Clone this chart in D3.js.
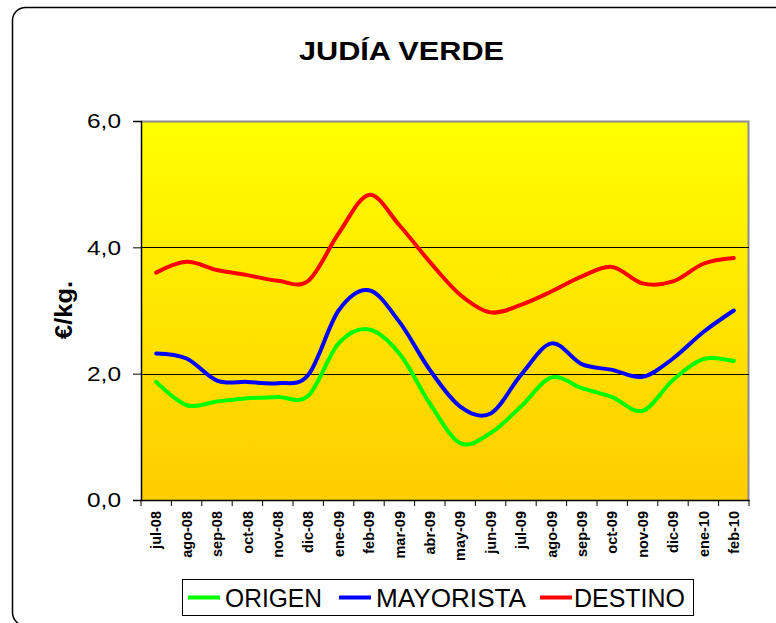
<!DOCTYPE html>
<html>
<head>
<meta charset="utf-8">
<script src="https://cdn.jsdelivr.net/npm/d3@7"></script>
<style>
  html, body { margin: 0; padding: 0; background: #fff; }
  svg { display: block; font-family: "Liberation Sans", Arial, sans-serif; }
</style>
</head>
<body>
<svg id="chart" width="776" height="623"></svg>
<script>
// Monthly prices (€/kg) for green beans at three stages of the chain
const months = ["jul-08","ago-08","sep-08","oct-08","nov-08","dic-08","ene-09","feb-09","mar-09","abr-09",
                "may-09","jun-09","jul-09","ago-09","sep-09","oct-09","nov-09","dic-09","ene-10","feb-10"];
const origen    = [1.87, 1.50, 1.56, 1.61, 1.63, 1.65, 2.48, 2.70, 2.32, 1.53, 0.90, 1.06, 1.48, 1.94, 1.77, 1.63, 1.41, 1.90, 2.23, 2.20];
const mayorista = [2.32, 2.24, 1.89, 1.87, 1.85, 1.98, 3.00, 3.32, 2.82, 2.06, 1.48, 1.37, 1.98, 2.48, 2.15, 2.06, 1.95, 2.24, 2.66, 3.00];
const destino   = [3.60, 3.77, 3.64, 3.56, 3.47, 3.47, 4.22, 4.83, 4.35, 3.77, 3.25, 2.97, 3.09, 3.30, 3.54, 3.69, 3.43, 3.46, 3.74, 3.83];
const yTicks = [0, 2, 4, 6];
const seriesNames = ["ORIGEN", "MAYORISTA", "DESTINO"];
const seriesColors = ["#00ff00", "#0000ff", "#ff0000"];
const seriesData = [origen, mayorista, destino];

const svg = d3.select("#chart");
const plot = { left: 141, right: 749, top: 121, bottom: 500 };

// Outer rounded frame
svg.append("rect")
  .attr("x", 12.5).attr("y", 7.5)
  .attr("width", 790).attr("height", 618)
  .attr("rx", 13).attr("ry", 13)
  .attr("fill", "#fff").attr("stroke", "#000").attr("stroke-width", 1.5);

// Title
svg.append("text")
  .attr("x", 401.5).attr("y", 59.5)
  .attr("text-anchor", "middle")
  .attr("font-size", 25).attr("font-weight", "bold")
  .attr("textLength", 205).attr("lengthAdjust", "spacingAndGlyphs")
  .text("JUDÍA VERDE");

const x = d3.scaleBand().domain(months).range([plot.left, plot.right]);
const y = d3.scaleLinear().domain([0, 6]).range([plot.bottom, plot.top]);

// Plot background gradient
const defs = svg.append("defs");
const grad = defs.append("linearGradient").attr("id", "bg")
  .attr("x1", 0).attr("y1", 0).attr("x2", 0).attr("y2", 1);
grad.append("stop").attr("offset", "0%").attr("stop-color", "#ffff00");
grad.append("stop").attr("offset", "100%").attr("stop-color", "#ffcc00");

svg.append("rect")
  .attr("x", plot.left).attr("y", plot.top)
  .attr("width", plot.right - plot.left).attr("height", plot.bottom - plot.top)
  .attr("fill", "url(#bg)");

// Plot border (top and right in grey)
svg.append("path")
  .attr("d", `M${plot.left},${plot.top + 0.5}H${plot.right - 0.5}V${plot.bottom}`)
  .attr("fill", "none").attr("stroke", "#8c8c8c").attr("stroke-width", 2);

// Horizontal gridlines
svg.append("g").selectAll("line")
  .data(yTicks.filter(d => d > 0 && d < 6))
  .join("line")
  .attr("x1", plot.left).attr("x2", plot.right)
  .attr("y1", d => Math.round(y(d)) + 0.5).attr("y2", d => Math.round(y(d)) + 0.5)
  .attr("stroke", "#000").attr("stroke-width", 1);

// Y axis
const yAxis = svg.append("g")
  .attr("transform", `translate(${plot.left},0)`)
  .call(d3.axisLeft(y).tickValues(yTicks).tickSize(8).tickPadding(12)
    .tickFormat(d => d.toFixed(1).replace(".", ",")));
yAxis.select(".domain").attr("stroke", "#000").attr("stroke-width", 1.5);
yAxis.selectAll(".tick line").attr("stroke", "#000");
yAxis.selectAll("text")
  .attr("font-size", 21).attr("font-family", "Liberation Sans, Arial, sans-serif")
  .attr("fill", "#000")
  .attr("textLength", 34).attr("lengthAdjust", "spacingAndGlyphs");

// Y axis title
svg.append("text")
  .attr("transform", "translate(72,310) rotate(-90)")
  .attr("text-anchor", "middle")
  .attr("font-size", 23).attr("font-weight", "bold")
  .attr("textLength", 58).attr("lengthAdjust", "spacingAndGlyphs")
  .text("€/kg.");

// X axis: line, boundary ticks, rotated labels
const xAxis = svg.append("g")
  .attr("transform", `translate(0,${plot.bottom})`)
  .call(d3.axisBottom(x).tickSize(0).tickPadding(0));
xAxis.select(".domain").attr("stroke", "#000").attr("stroke-width", 1.5);
xAxis.selectAll(".tick text")
  .attr("transform", "rotate(-90)")
  .attr("text-anchor", "end")
  .attr("x", -11).attr("y", 0).attr("dy", "0.36em")
  .attr("font-size", 14.5).attr("font-weight", "bold")
  .attr("font-family", "Liberation Sans, Arial, sans-serif")
  .attr("fill", "#000");

const bounds = months.map(m => x(m)).concat([x(months[months.length - 1]) + x.bandwidth()]);
svg.append("g").selectAll("line")
  .data(bounds)
  .join("line")
  .attr("x1", d => d).attr("x2", d => d)
  .attr("y1", plot.bottom).attr("y2", plot.bottom + 6)
  .attr("stroke", "#000").attr("stroke-width", 1);

// Series lines (smoothed)
const line = d3.line()
  .x((d, i) => x(months[i]) + x.bandwidth() / 2)
  .y(d => y(d))
  .curve(d3.curveCardinal.tension(0));

svg.append("g").selectAll("path")
  .data(seriesData)
  .join("path")
  .attr("d", d => line(d))
  .attr("fill", "none")
  .attr("stroke", (d, i) => seriesColors[i])
  .attr("stroke-width", 4)
  .attr("stroke-linecap", "round")
  .attr("stroke-linejoin", "round");

// Legend
const legend = svg.append("g");
legend.append("rect")
  .attr("x", 182.5).attr("y", 579.5)
  .attr("width", 511).attr("height", 36)
  .attr("fill", "#fff").attr("stroke", "#000").attr("stroke-width", 1);

const legendItems = [
  { lx: 188, tx: 225, tw: 97 },
  { lx: 339, tx: 376, tw: 150 },
  { lx: 540, tx: 574, tw: 111 }
];
legendItems.forEach((it, i) => {
  legend.append("line")
    .attr("x1", it.lx).attr("x2", it.lx + 32)
    .attr("y1", 597.5).attr("y2", 597.5)
    .attr("stroke", seriesColors[i]).attr("stroke-width", 4);
  legend.append("text")
    .attr("x", it.tx).attr("y", 606.5)
    .attr("font-size", 25)
    .attr("textLength", it.tw).attr("lengthAdjust", "spacingAndGlyphs")
    .text(seriesNames[i]);
});
</script>
</body>
</html>
